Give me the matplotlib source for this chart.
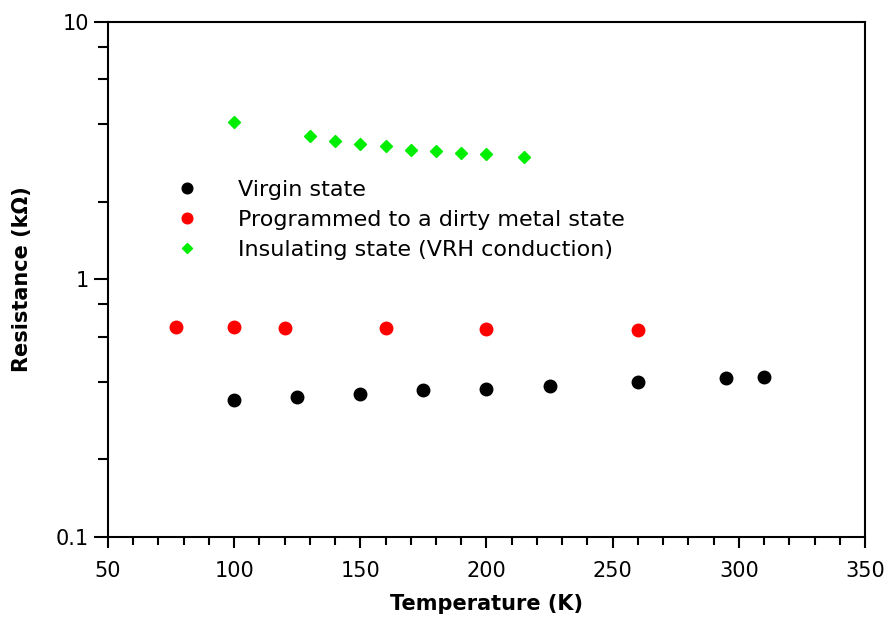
import matplotlib.pyplot as plt
from matplotlib.ticker import LogLocator, MultipleLocator, NullFormatter

# Virgin state
t_virgin = [100, 125, 150, 175, 200, 225, 260, 295, 310]
r_virgin = [0.340, 0.350, 0.359, 0.372, 0.376, 0.386, 0.400, 0.414, 0.418]

# Programmed to a dirty metal state
t_metal = [77, 100, 120, 160, 200, 260]
r_metal = [0.654, 0.654, 0.648, 0.648, 0.643, 0.637]

# Insulating state (VRH)
t_ins = [100, 130, 140, 150, 160, 170, 180, 190, 200, 215]
r_ins = [4.09, 3.61, 3.45, 3.36, 3.30, 3.18, 3.16, 3.10, 3.07, 2.99]

fig = plt.figure(figsize=(8.88, 6.2), dpi=100)
ax = fig.add_axes([0.1216, 0.1339, 0.8525, 0.8306])

ax.plot(t_virgin, r_virgin, 'o', color='black', markersize=9, label='Virgin state')
ax.plot(t_metal, r_metal, 'o', color='red', markersize=9, label='Programmed to a dirty metal state')
ax.plot(t_ins, r_ins, 'D', color='#00ee00', markersize=6.5, label='Insulating state (VRH conduction)')

ax.set_yscale('log')
ax.set_xlim(50, 350)
ax.set_ylim(0.1, 10)

ax.xaxis.set_major_locator(MultipleLocator(50))
ax.xaxis.set_minor_locator(MultipleLocator(10))
ax.yaxis.set_minor_locator(LogLocator(base=10, subs=[2, 4, 6, 8]))
ax.yaxis.set_minor_formatter(NullFormatter())
ax.set_yticks([0.1, 1, 10])
ax.set_yticklabels(['0.1', '1', '10'])

for s in ax.spines.values():
    s.set_linewidth(1.5)
ax.tick_params(which='both', direction='out', width=1.5, labelsize=15, top=False, right=False)
ax.tick_params(axis='x', which='major', length=8, pad=9)
ax.tick_params(axis='x', which='minor', length=6)
ax.tick_params(axis='y', which='major', length=10)
ax.tick_params(axis='y', which='minor', length=7)

ax.set_xlabel('Temperature (K)', fontsize=15, fontweight='bold', labelpad=10)
ax.set_ylabel('Resistance (k\u03a9)', fontsize=15, fontweight='bold', labelpad=17)

ax.legend(loc='upper left', bbox_to_anchor=(0.063, 0.710), frameon=False, fontsize=16,
          handletextpad=1.3, labelspacing=0.45, borderaxespad=0, markerscale=0.85)

fig.savefig('out.png', dpi=100)
